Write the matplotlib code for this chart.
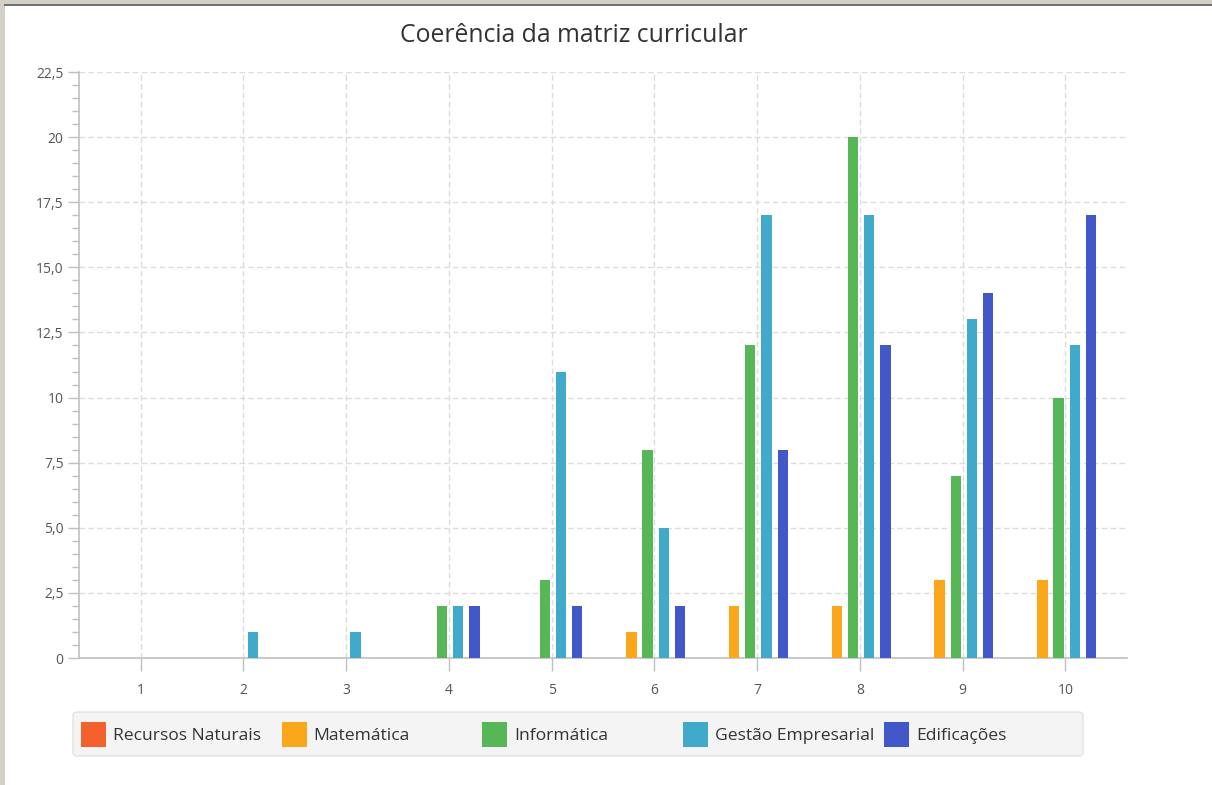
import matplotlib
matplotlib.use("Agg")
import matplotlib.pyplot as plt
from matplotlib.patches import Rectangle, FancyBboxPatch
from matplotlib.ticker import MultipleLocator, FixedLocator
import numpy as np

plt.rcParams['font.family'] = ['Open Sans', 'DejaVu Sans']
plt.rcParams['lines.scale_dashes'] = False

title = "Coerência da matriz curricular"
categories = ["1", "2", "3", "4", "5", "6", "7", "8", "9", "10"]
series_names = ["Recursos Naturais", "Matemática", "Informática",
                "Gestão Empresarial", "Edificações"]
recursos_naturais = [0, 0, 0, 0, 0, 0, 0, 0, 0, 0]
matematica = [0, 0, 0, 0, 0, 1, 2, 2, 3, 3]
informatica = [0, 0, 0, 2, 3, 8, 12, 20, 7, 10]
gestao_empresarial = [0, 1, 1, 2, 11, 5, 17, 17, 13, 12]
edificacoes = [0, 0, 0, 2, 2, 2, 8, 12, 14, 17]
y_ticks = [0, 2.5, 5, 7.5, 10, 12.5, 15, 17.5, 20, 22.5]
y_tick_labels = ["0", "2,5", "5,0", "7,5", "10", "12,5", "15,0", "17,5", "20", "22,5"]

series_values = [recursos_naturais, matematica, informatica,
                 gestao_empresarial, edificacoes]
colors = ["#f3622d", "#fba71b", "#57b757", "#41a9c9", "#4258c9"]

W, H = 1212, 785
fig = plt.figure(figsize=(W / 100, H / 100), dpi=100)
fig.patch.set_facecolor("white")

def fx(px):
    return px / W

def fy(py):
    return (H - py) / H

# window frame
fig.add_artist(Rectangle((0, 0), fx(5), 1, transform=fig.transFigure,
                         facecolor="#d4d0c8", edgecolor="none"))
fig.add_artist(Rectangle((0, fy(3.5)), 1, 3.5 / H, transform=fig.transFigure,
                         facecolor="#d4d0c8", edgecolor="none"))
fig.add_artist(Rectangle((fx(4), fy(6)), 1, 2.5 / H, transform=fig.transFigure,
                         facecolor="#707070", edgecolor="none"))

left, right, top, bottom = 79, 1127, 72, 658
ax = fig.add_axes([fx(left), fy(bottom), fx(right - left), (bottom - top) / H])
ax.set_facecolor("white")

x = np.arange(1, len(categories) + 1)
step = 0.1577
center_off = -0.066
bar_w = 0.1
for i, (name, vals, c) in enumerate(zip(series_names, series_values, colors)):
    ax.bar(x + center_off + (i - 2) * step, vals, width=bar_w, color=c,
           edgecolor="none", label=name, zorder=3)

ax.set_xlim(0.4, len(categories) + 0.6)
ax.set_ylim(0, 22.5)
ax.xaxis.set_major_locator(FixedLocator(x))
ax.set_xticklabels(categories)
ax.yaxis.set_major_locator(FixedLocator(y_ticks))
ax.set_yticklabels(y_tick_labels)
ax.yaxis.set_minor_locator(MultipleLocator(0.5))

grid_c = "#dcdcdc"
ax.grid(True, which="major", axis="both", color=grid_c, linewidth=1.0,
        linestyle=(0, (4.0, 2.4)), zorder=0)

for s in ["top", "right"]:
    ax.spines[s].set_visible(False)
for s in ["left", "bottom"]:
    ax.spines[s].set_color("#c0c0c0")
    ax.spines[s].set_linewidth(1.2)

ax.tick_params(axis="y", which="major", length=8, width=1.0, color="#c0c0c0",
               labelsize=10, labelcolor="#555555", pad=3)
ax.tick_params(axis="y", which="minor", length=5, width=1.0, color="#c0c0c0")
ax.tick_params(axis="x", which="major", length=9, width=1.0, color="#c0c0c0",
               labelsize=10, labelcolor="#555555", pad=9)

fig.text(fx(574), fy(36), title, ha="center", va="center", fontsize=17.8,
         color="#333333")

# legend (JavaFX style, equal column widths)
lg_x0, lg_x1, lg_y0, lg_y1 = 73, 1083, 712, 756
fig.add_artist(FancyBboxPatch((fx(lg_x0), fy(lg_y1)), fx(lg_x1 - lg_x0),
                              (lg_y1 - lg_y0) / H,
                              boxstyle="round,pad=0,rounding_size=0.004",
                              transform=fig.transFigure, facecolor="#f4f4f4",
                              edgecolor="#e2e2e2", linewidth=1.0))
col_w = 200.7
for i, (name, c) in enumerate(zip(series_names, colors)):
    sx = 81 + i * col_w
    fig.add_artist(Rectangle((fx(sx), fy(747)), fx(25), 25 / H,
                             transform=fig.transFigure, facecolor=c,
                             edgecolor="none"))
    fig.text(fx(sx + 32), fy(736), name, ha="left", va="center",
             fontsize=12.6, color="#333333")

fig.savefig("out.png", dpi=100, facecolor=fig.get_facecolor())
